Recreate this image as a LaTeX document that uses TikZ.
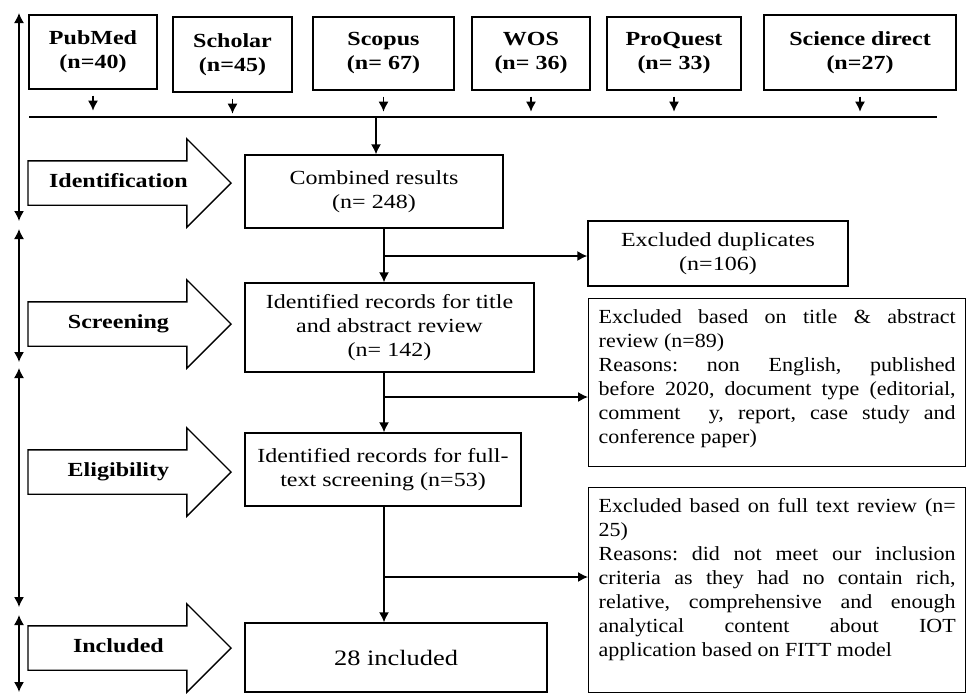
\documentclass[tikz,border=0pt]{standalone}
\usepackage{fontspec}
\setmainfont{Liberation Serif}[FakeStretch=1.2]
\newfontfamily\exclfont{Liberation Serif}[FakeStretch=1.1]
\usetikzlibrary{arrows.meta,positioning,shapes.arrows}
\newcommand{\figfont}{\fontsize{20}{24}\selectfont}
\tikzset{
  dbbox/.style={draw, line width=1.4pt, font=\figfont\bfseries, align=center, inner sep=2pt},
  stepbox/.style={draw, line width=1.4pt, font=\figfont, align=center, inner sep=2pt},
  exclbox/.style={draw, line width=1.4pt, font=\exclfont\figfont\frenchspacing, align=justify, text width=357pt,
    inner xsep=10pt, inner ysep=7pt, text height=18pt, anchor=north west},
  phase/.style={single arrow, draw, line width=1.4pt, font=\figfont\bfseries,
    single arrow head extend=22pt, minimum height=203pt, text height=13pt, text depth=4pt,
    inner ysep=13pt, anchor=tip},
  flow/.style={line width=1.4pt, -{Latex[length=10pt,width=10pt]}},
  phasebar/.style={line width=1.4pt, {Latex[length=10pt,width=10pt]}-{Latex[length=10pt,width=10pt]}}
}
\begin{document}
\begin{tikzpicture}[x=1pt,y=-1pt]
\useasboundingbox (0,0) rectangle (967,694);
% databases
\node[dbbox, minimum width=128pt, minimum height=74pt] (pubmed) at (93,52) {PubMed\\(n=40)};
\node[dbbox, minimum width=119pt, minimum height=75pt] (scholar) at (232.5,54.5) {Scholar\\(n=45)};
\node[dbbox, minimum width=141pt, minimum height=73pt] (scopus) at (383.5,53.5) {Scopus\\(n= 67)};
\node[dbbox, minimum width=118pt, minimum height=73pt] (wos) at (531,53.5) {WOS\\(n= 36)};
\node[dbbox, minimum width=134pt, minimum height=73pt] (proquest) at (674,53.5) {ProQuest\\(n= 33)};
\node[dbbox, minimum width=192pt, minimum height=75pt] (science) at (860,52.5) {Science direct\\(n=27)};
\foreach \db in {pubmed,scholar,scopus,wos,proquest,science}
  \draw[flow] ([yshift=-6pt]\db.south) -- ([yshift=-21pt]\db.south);
\coordinate (lineL) at (29,117);
\coordinate (lineR) at (937,117);
\coordinate (join) at (376,117);
\draw[line width=1.4pt] (lineL) -- (lineR);

% records
\node[stepbox, minimum width=258pt, minimum height=73pt] (combined) at (374,191.5) {Combined results\\(n= 248)};
\node[stepbox, minimum width=289pt, minimum height=89pt] (ident1) at (389.5,327.5)
  {Identified records for title\\and abstract review\\(n= 142)};
\node[stepbox, minimum width=276pt, minimum height=73pt] (ident2) at (383,469.5)
  {Identified records for full-\\text screening (n=53)};
\node[stepbox, minimum width=302pt, minimum height=69pt, font=\fontsize{22}{26}\selectfont] (incl) at (396,657.5) {28 included};

% exclusions
\node[stepbox, minimum width=260pt, minimum height=65pt] (dup) at (718,253.5) {Excluded duplicates\\(n=106)};
\node[exclbox, text depth=136pt] (excl1) at (588,298)
  {Excluded based on title \& abstract\linebreak review (n=89)\\
   Reasons: non English, published\linebreak before 2020, document type (editorial,\linebreak
   comment~~y, report, case study and\linebreak conference paper)};
\node[exclbox, text depth=173pt] (excl2) at (588,487)
  {Excluded based on full text review (n=\linebreak 25)\\
   Reasons: did not meet our inclusion\linebreak criteria as they had no contain rich,\linebreak
   relative, comprehensive and enough\linebreak analytical content about IOT\linebreak
   application based on FITT model};

% connectors
\coordinate (b1) at (384,256);
\coordinate (b2) at (384,397);
\coordinate (b3) at (384,577);
\draw[flow] (join) -- (join |- combined.north);
\draw[flow] (combined.south -| b1) -- (ident1.north -| b1);
\draw[flow] (b1) -- (b1 -| dup.west);
\draw[flow] (ident1.south -| b2) -- (ident2.north -| b2);
\draw[flow] (b2) -- (b2 -| excl1.west);
\draw[flow] (ident2.south -| b3) -- (incl.north -| b3);
\draw[flow] (b3) -- (b3 -| excl2.west);

% phases
\node[phase] (identification) at (232,183) {Identification};
\node[phase] (screening) at (232,324) {Screening};
\node[phase] (eligibility) at (232,472) {Eligibility};
\node[phase] (included) at (232,648) {Included};
\foreach \a/\b [count=\i] in {13/221,229/362,368/607,615/692} {
  \coordinate (bar\i a) at (19,\a);
  \coordinate (bar\i b) at (19,\b);
  \draw[phasebar] (bar\i a) -- (bar\i b);
}
\end{tikzpicture}
\end{document}
